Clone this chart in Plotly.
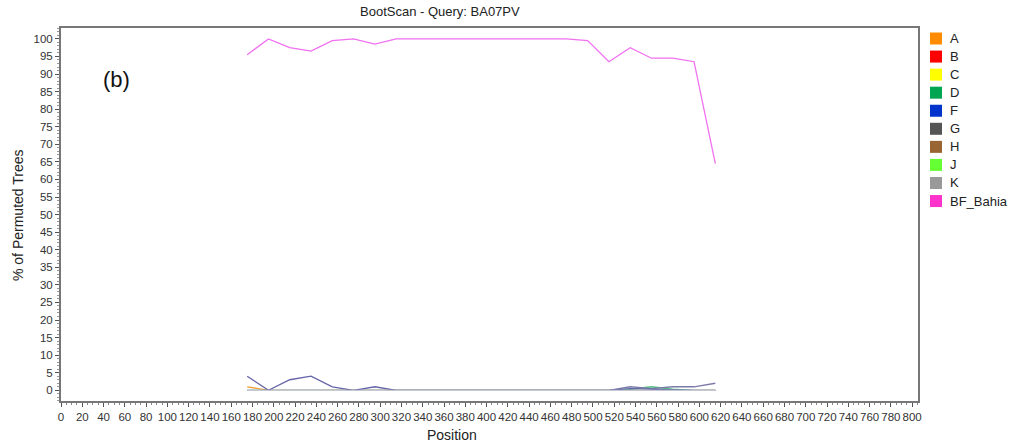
import plotly.graph_objects as go

# Window positions along the alignment (step 20)
positions = [175, 195, 215, 235, 255, 275, 295, 315, 335, 355, 375, 395,
             415, 435, 455, 475, 495, 515, 535, 555, 575, 595, 615]

# Bootstrap support (% of permuted trees) per reference subtype
A = [1, 0, 0, 0, 0, 0, 0, 0, 0, 0, 0, 0, 0, 0, 0, 0, 0, 0, 0, 0, 0, 0, 0]
D = [0, 0, 0, 0, 0, 0, 0, 0, 0, 0, 0, 0, 0, 0, 0, 0, 0, 0, 0.3, 1, 0.3, 0, 0]
F = [4, 0, 3, 4, 1, 0, 1, 0, 0, 0, 0, 0, 0, 0, 0, 0, 0, 0, 0.5, 0.3, 0.3, 0, 0]
G = [0, 0, 0, 0, 0, 0, 0, 0, 0, 0, 0, 0, 0, 0, 0, 0, 0, 0, 1, 0.5, 1, 1, 2]
K = [0, 0, 0, 0, 0, 0, 0, 0, 0, 0, 0, 0, 0, 0, 0, 0, 0, 0, 0, 0, 0, 0, 0]
BF_Bahia = [95.5, 100, 97.5, 96.5, 99.5, 100, 98.5, 100, 100, 100, 100, 100,
            100, 100, 100, 100, 99.5, 93.5, 97.5, 94.5, 94.5, 93.5, 64.5]

legend_names = ["A", "B", "C", "D", "F", "G", "H", "J", "K", "BF_Bahia"]
legend_colors = ["#FF8C00", "#FF0000", "#FFFF00", "#00A651", "#0033CC",
                 "#555555", "#996633", "#66FF33", "#999999", "#FF33CC"]

FONT = "Arial, Liberation Sans, sans-serif"

# Plot-area geometry in pixels (figure is 1017 x 448)
L, R, T, B = 61, 918, 28, 401
W, H = R - L, B - T


def px_x(px):
    return (px - L) / W


def px_y(py):
    return (B - py) / H


fig = go.Figure()

# Plotted curves (drawn back to front)
curves = [
    ("A", A, "#F0A030"),
    ("D", D, "#50C080"),
    ("G", G, "#7A7AA8"),
    ("F", F, "#6464A8"),
    ("K", K, "#C8C8D2"),
    ("BF_Bahia", BF_Bahia, "#F070F0"),
]
for name, vals, col in curves:
    fig.add_trace(go.Scatter(x=positions, y=vals, mode="lines", name=name,
                             line=dict(color=col, width=1.3),
                             showlegend=False))

shapes = []
annotations = []

# Legend: coloured squares with labels to the right of the plot
for i, (name, col) in enumerate(zip(legend_names, legend_colors)):
    cy = 38.5 + i * 18.06
    shapes.append(dict(type="rect", xref="paper", yref="paper",
                       x0=px_x(930), x1=px_x(942), y0=px_y(cy + 6), y1=px_y(cy - 6),
                       fillcolor=col, line=dict(width=0)))
    annotations.append(dict(text=name, xref="paper", yref="paper",
                            x=px_x(948), y=px_y(cy), xanchor="left", yanchor="middle",
                            showarrow=False, font=dict(family=FONT, size=13, color="#222222")))

# Titles
annotations += [
    dict(text="BootScan - Query: BA07PV", xref="paper", yref="paper",
         x=px_x(440), y=px_y(12), xanchor="center", yanchor="middle",
         showarrow=False, font=dict(family=FONT, size=13, color="#222222")),
    dict(text="Position", xref="paper", yref="paper",
         x=px_x(452), y=px_y(435), xanchor="center", yanchor="middle",
         showarrow=False, font=dict(family=FONT, size=14, color="#222222")),
    dict(text="% of Permuted Trees", xref="paper", yref="paper",
         x=px_x(18), y=px_y(215), xanchor="center", yanchor="middle", textangle=-90,
         showarrow=False, font=dict(family=FONT, size=14, color="#222222")),
    dict(text="(b)", x=52, y=88.5, xref="x", yref="y",
         showarrow=False, xanchor="center", yanchor="middle",
         font=dict(family=FONT, size=22, color="#111111")),
]

axis_font = dict(family=FONT, size=11.5, color="#333333")

fig.update_layout(
    width=1017, height=448,
    margin=dict(l=L, r=1017 - R, t=T, b=448 - B, autoexpand=False),
    paper_bgcolor="white", plot_bgcolor="white",
    showlegend=False,
    font=dict(family=FONT),
    xaxis=dict(range=[0, 805.5], tick0=0, dtick=20, ticks="outside", ticklen=4,
               tickcolor="#555555", tickfont=axis_font, automargin=False,
               showline=True, linecolor="#777777", linewidth=2, mirror=True,
               showgrid=False, zeroline=False,
               minor=dict(dtick=5, ticks="outside", ticklen=2, tickcolor="#888888")),
    yaxis=dict(range=[-3.05, 103.1], tick0=0, dtick=5, ticks="outside", ticklen=4,
               tickcolor="#555555", tickfont=axis_font, automargin=False,
               showline=True, linecolor="#777777", linewidth=2, mirror=True,
               showgrid=False, zeroline=False,
               minor=dict(dtick=1, ticks="outside", ticklen=2, tickcolor="#999999")),
    shapes=shapes,
    annotations=annotations,
)

fig.write_html("out.html")
